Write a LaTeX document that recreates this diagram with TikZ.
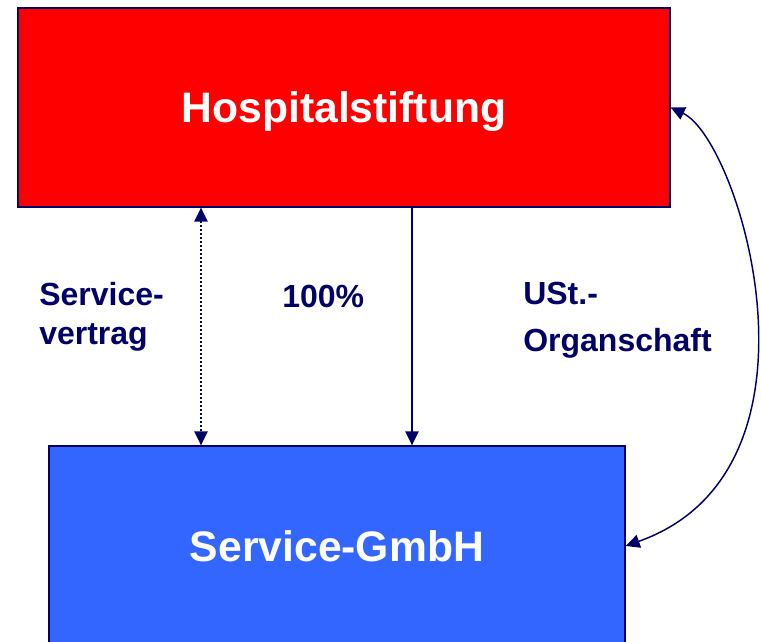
\documentclass[tikz,border=0pt]{standalone}
\usepackage{fontspec}
\setmainfont{Liberation Sans}
\usetikzlibrary{positioning,arrows.meta}
\definecolor{navy}{RGB}{0,0,102}
\definecolor{gmbhblue}{RGB}{51,102,255}
\begin{document}
\begin{tikzpicture}[x=0.75pt,y=-0.75pt]
\tikzstyle{box}=[draw=navy,line width=1pt,inner sep=0pt,text depth=0pt,text=white,font=\bfseries\fontsize{32}{36}\selectfont]
\tikzstyle{lbl}=[text=navy,inner sep=0pt,align=left,font=\bfseries\fontsize{24}{29}\selectfont]
\tikzstyle{link}=[draw=navy,line width=1.1pt,{Triangle[length=10.5pt,width=10pt]}-{Triangle[length=10.5pt,width=10pt]}]
    \useasboundingbox (0,0) rectangle (761,642);
    \node[box,fill=red,minimum width=489pt,minimum height=149.25pt] (hosp) at (344,107.5) {Hospitalstiftung};
    \node[box,fill=gmbhblue,minimum width=432pt,minimum height=150pt] (gmbh) at (337,546) {Service-GmbH};
    \coordinate (svx) at (201,0);
    \coordinate (antx) at (412,0);
    \draw[link,dash pattern=on 1.2pt off 1.8pt] (hosp.south -| svx) -- (gmbh.north -| svx);
    \draw[link,-{Triangle[length=10.5pt,width=10pt]}] (hosp.south -| antx) -- (gmbh.north -| antx);
    \draw[link] (hosp.east) .. controls (740,140) and (840,470) .. (gmbh.east);
    \node[lbl,anchor=north west] (svtext) at (39,282) {Service-\\vertrag};
    \node[lbl,anchor=base west] (antext) at (282,307) {100\%};
    \node[lbl,anchor=north west,font=\bfseries\fontsize{24}{35.5}\selectfont] (usttext) at (523,282) {USt.-\\Organschaft};
\end{tikzpicture}
\end{document}
